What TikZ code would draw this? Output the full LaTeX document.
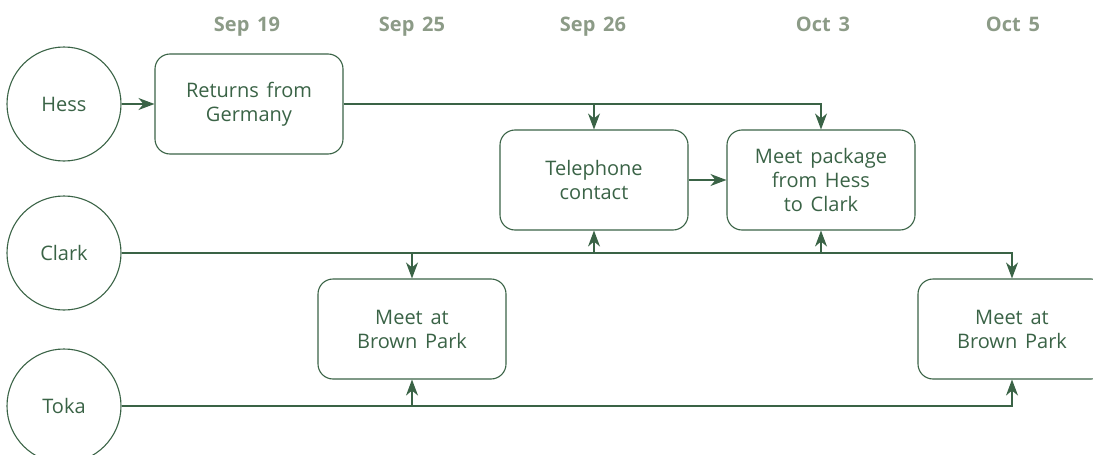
\documentclass[tikz,border=0pt]{standalone}
\usepackage{fontspec}
\setmainfont{Open Sans}[WordSpace=1.5]
\usetikzlibrary{shapes}
\usetikzlibrary{arrows.meta}

\definecolor{leaf}{RGB}{58,99,70}
\definecolor{sage}{RGB}{140,155,135}

\begin{document}
\begin{tikzpicture}[x=1pt,y=-1pt]
				\tikzstyle{person}=[circle,draw=leaf,line width=1.1pt,minimum size=114pt,inner sep=0pt,text=leaf,font=\fontsize{20}{24}\selectfont]
				\tikzstyle{event}=[rectangle,rounded corners=15pt,draw=leaf,line width=1.1pt,minimum width=188pt,minimum height=100pt,align=center,text=leaf,font=\fontsize{20}{24}\selectfont]
				\tikzstyle{day}=[anchor=base,text=sage,font=\fontsize{20}{24}\selectfont\bfseries]
				\tikzstyle{link}=[draw=leaf,line width=1.1pt,-{Stealth[length=16pt,width=12pt,inset=5pt]}]
				\useasboundingbox (0,0) rectangle (1093,455);
				\clip (0,0) rectangle (1093,455);
				\node[day] (d1) at (247,31) {Sep 19};
				\node[day] (d2) at (412,31) {Sep 25};
				\node[day] (d3) at (593,31) {Sep 26};
				\node[day] (d4) at (823,31) {Oct 3};
				\node[day] (d5) at (1013,31) {Oct 5};
				\node[person] (hess) at (64,104) {Hess};
				\node[person] (clark) at (64,253) {Clark};
				\node[person] (toka) at (64,406) {Toka};
				\node[event] (ret) at (249,104) {Returns from\\Germany};
				\node[event] (tel) at (594,180) {Telephone\\contact};
				\node[event] (meet) at (821,180) {Meet package\\from Hess\\to Clark};
				\node[event] (park1) at (412,329) {Meet at\\Brown Park};
				\node[event] (park2) at (1012,329) {Meet at\\Brown Park};
				\draw[link] (hess) -- (ret);
				\draw[link] (ret.east) -| (meet.north);
				\draw[link] (tel.north |- ret.east) -- (tel.north);
				\draw[link] (tel) -- (meet);
				\draw[link] (clark.east) -| (park2.north);
				\draw[link] (park1.north |- clark.east) -- (park1.north);
				\draw[link] (tel.south |- clark.east) -- (tel.south);
				\draw[link] (meet.south |- clark.east) -- (meet.south);
				\draw[link] (toka.east) -| (park2.south);
				\draw[link] (park1.south |- toka.east) -- (park1.south);
\end{tikzpicture}
\end{document}
